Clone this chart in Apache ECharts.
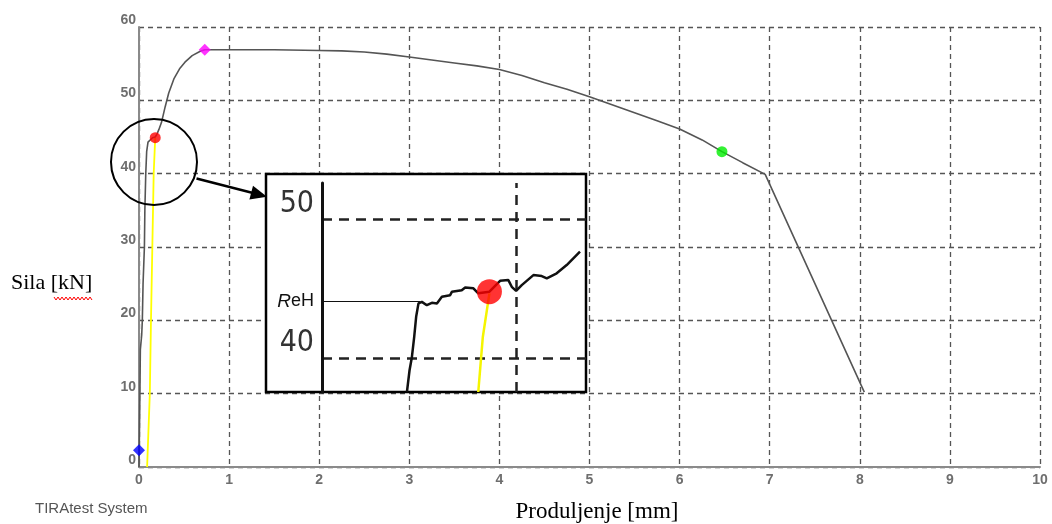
<!DOCTYPE html>
<html>
<head>
<meta charset="utf-8">
<script src="https://cdn.jsdelivr.net/npm/echarts@6/dist/echarts.min.js"></script>
<style>
html,body{margin:0;padding:0;background:#fff;}
#c{width:1052px;height:524px;}
</style>
</head>
<body>
<div id="c"></div>
<script>
// ---- main test curve (elongation mm, force kN) ----
var mainX = [0, 0.005, 0.01, 0.015, 0.03, 0.037, 0.045, 0.06, 0.065, 0.075, 0.085, 0.1, 0.12, 0.15, 0.18, 0.2, 0.22, 0.25, 0.29, 0.33, 0.39, 0.45, 0.51, 0.59, 0.68, 0.73, 1.0, 1.5, 2.0, 2.25, 2.5, 2.75, 3.0, 3.25, 3.5, 3.75, 4.0, 4.25, 4.5, 4.75, 5.0, 5.25, 5.5, 5.75, 6.0, 6.25, 6.47, 6.7, 6.95, 8.05];
var mainY = [0, 5, 10, 16, 18, 20, 25, 30, 35, 40, 43, 44.3, 44.5, 44.9, 45.0, 45.4, 46.0, 47.0, 49.1, 51.0, 53.0, 54.3, 55.2, 56.1, 56.7, 56.9, 56.9, 56.9, 56.8, 56.75, 56.6, 56.3, 55.9, 55.5, 55.1, 54.7, 54.2, 53.4, 52.4, 51.5, 50.5, 49.4, 48.3, 47.2, 46.1, 44.6, 43.0, 41.5, 39.9, 10.2];
// yellow offset line
var yellowX = [0.09, 0.12, 0.133, 0.148, 0.163, 0.18];
var yellowY = [0, 10, 20, 30, 40, 44.9];
// key points
var blueX = [0.0], blueY = [2.3];
var redX = [0.18], redY = [44.9];
var magentaX = [0.73], magentaY = [56.9];
var greenX = [6.47], greenY = [43.0];
// axes ticks
var xTicks = [0,1,2,3,4,5,6,7,8,9,10];
var yTicks = [0,10,20,30,40,50,60];

// ---- inset (detail of upper yield point) ----
var insetX = [0.0875, 0.0902, 0.0926, 0.095, 0.097, 0.0994, 0.1029, 0.108, 0.1132, 0.1184, 0.1235, 0.132, 0.1338, 0.144, 0.1475, 0.156, 0.161, 0.1725, 0.1835, 0.192, 0.1955, 0.2, 0.2058, 0.2178, 0.2264, 0.2316, 0.2418, 0.2521, 0.2658];
var insetY = [37.6, 39.16, 40.1, 41.55, 43.0, 43.96, 44.07, 43.83, 44.0, 43.96, 44.43, 44.55, 44.79, 44.91, 45.1, 45.04, 44.68, 44.8, 45.58, 45.63, 45.15, 44.86, 45.27, 45.99, 45.92, 45.76, 46.12, 46.71, 47.67];
var insetYellowX = [0.161, 0.1657, 0.1725];
var insetYellowY = [37.6, 41.55, 44.68];
var insetRedX = [0.1725], insetRedY = [44.8];
var insetYTicks = [40, 50];
var insetXGrid = [0.2];
var reHLevel = 44.1, reHEndX = 0.1012;

function zip(a, b) { return a.map(function (v, i) { return [v, b[i]]; }); }

var chart = echarts.init(document.getElementById('c'), null, {renderer: 'canvas'});

var tickLabel = {color: '#6e6e6e', fontSize: 14, fontWeight: 'bold', fontFamily: 'Liberation Sans, Arial, sans-serif'};
var insetDash = {color: '#222', width: 2.5, type: [10, 7]};

var option = {
  animation: false,
  backgroundColor: '#fff',
  grid: [
    {left: 139, right: 12, top: 27, bottom: 57, outerBoundsMode: 'none'},
    {left: 322, right: 466, top: 183, bottom: 132, outerBoundsMode: 'none'}
  ],
  xAxis: [
    {
      type: 'value', gridIndex: 0, min: 0, max: 10, interval: 1,
      axisLine: {show: true, onZero: false, lineStyle: {color: '#8a8a8a', width: 2}},
      axisTick: {show: false},
      axisLabel: Object.assign({margin: 6, formatter: function (v) { return xTicks.indexOf(v) >= 0 ? String(v) : ''; }}, tickLabel),
      splitLine: {show: true, lineStyle: {color: '#555', width: 1.3, type: [5, 4]}}
    },
    {
      type: 'value', gridIndex: 1, min: 0, max: 0.272, z: 10,
      axisLine: {show: false}, axisTick: {show: false}, axisLabel: {show: false}, splitLine: {show: false}
    }
  ],
  yAxis: [
    {
      type: 'value', gridIndex: 0, min: 0, max: 60, interval: 10,
      axisLine: {show: true, onZero: false, lineStyle: {color: '#8a8a8a', width: 2}},
      axisTick: {show: false},
      axisLabel: Object.assign({margin: 3, verticalAlign: 'bottom', formatter: function (v) { return yTicks.indexOf(v) >= 0 ? String(v) : ''; }}, tickLabel),
      splitLine: {show: true, lineStyle: {color: '#555', width: 1.3, type: [5, 4]}}
    },
    {
      type: 'value', gridIndex: 1, min: 37.6, max: 52.6, z: 10,
      axisLine: {show: true, onZero: false, lineStyle: {color: '#111', width: 3}},
      axisTick: {show: false},
      axisLabel: {show: true, customValues: insetYTicks, margin: 8, verticalAlign: 'bottom',
        color: '#333', fontSize: 30, fontFamily: 'DejaVu Sans Condensed, Liberation Sans Narrow, Liberation Sans, sans-serif'},
      splitLine: {show: false}
    }
  ],
  series: [
    {
      type: 'line', xAxisIndex: 0, yAxisIndex: 0, data: zip(yellowX, yellowY),
      showSymbol: false, lineStyle: {color: '#ffff00', width: 1.8}, z: 2
    },
    {
      type: 'line', xAxisIndex: 0, yAxisIndex: 0, data: zip(mainX, mainY),
      showSymbol: false, lineStyle: {color: '#555', width: 1.6}, z: 3
    },
    {type: 'scatter', xAxisIndex: 0, yAxisIndex: 0, data: zip(blueX, blueY), symbol: 'diamond', symbolSize: 12, itemStyle: {color: '#0000ff'}, z: 4},
    {type: 'scatter', xAxisIndex: 0, yAxisIndex: 0, data: zip(redX, redY), symbol: 'circle', symbolSize: 11, itemStyle: {color: '#ff0000'}, z: 4},
    {type: 'scatter', xAxisIndex: 0, yAxisIndex: 0, data: zip(magentaX, magentaY), symbol: 'diamond', symbolSize: 12, itemStyle: {color: '#ff00ff'}, z: 4},
    {type: 'scatter', xAxisIndex: 0, yAxisIndex: 0, data: zip(greenX, greenY), symbol: 'circle', symbolSize: 11, itemStyle: {color: '#00ee00'}, z: 4},
    // inset
    {
      type: 'line', xAxisIndex: 1, yAxisIndex: 1, data: zip(insetYellowX, insetYellowY),
      showSymbol: false, lineStyle: {color: '#f5f500', width: 2.5}, z: 12
    },
    {
      type: 'line', xAxisIndex: 1, yAxisIndex: 1, data: zip(insetX, insetY),
      showSymbol: false, lineStyle: {color: '#111', width: 2.5}, z: 11,
      markLine: {
        silent: true, symbol: 'none', z: 10, animation: false,
        label: {show: false},
        lineStyle: insetDash,
        data: insetYTicks.map(function (v) { return {yAxis: v}; })
          .concat(insetXGrid.map(function (v) { return {xAxis: v}; }))
          .concat([[
            {coord: [0, reHLevel], lineStyle: {color: '#111', width: 1, type: 'solid'},
             label: {show: true, position: 'start', distance: 8, formatter: '{i|R}{n|eH}',
               rich: {i: {fontStyle: 'italic', fontSize: 19, color: '#111', fontFamily: 'Liberation Sans, Arial, sans-serif'},
                      n: {fontSize: 18, color: '#111', fontFamily: 'Liberation Sans, Arial, sans-serif'}}}},
            {coord: [reHEndX, reHLevel]}
          ]])
      }
    },
    {type: 'scatter', xAxisIndex: 1, yAxisIndex: 1, data: zip(insetRedX, insetRedY), symbol: 'circle', symbolSize: 25, itemStyle: {color: '#ff0000'}, z: 13}
  ],
  graphic: [
    {type: 'rect', z: 5, shape: {x: 266, y: 174, width: 320, height: 218}, style: {fill: '#fff', stroke: '#000', lineWidth: 2.5}},
    {type: 'circle', z: 20, shape: {cx: 154, cy: 162, r: 43}, style: {fill: 'none', stroke: '#000', lineWidth: 2}},
    {type: 'line', z: 20, shape: {x1: 196.5, y1: 178.5, x2: 253, y2: 193}, style: {stroke: '#000', lineWidth: 2.5}},
    {type: 'polygon', z: 20, shape: {points: [[267, 196.7], [253, 185.8], [249.4, 199.4]]}, style: {fill: '#000'}},
    {type: 'text', z: 20, style: {x: 11, y: 283, text: 'Sila [kN]', fill: '#000', font: '22px "Liberation Serif", "Times New Roman", serif', verticalAlign: 'middle'}},
    {type: 'polyline', z: 20, shape: {points: [[54, 297], [56, 300], [58, 297], [60, 300], [62, 297], [64, 300], [66, 297], [68, 300], [70, 297], [72, 300], [74, 297], [76, 300], [78, 297], [80, 300], [82, 297], [84, 300], [86, 297], [88, 300], [90, 297], [92, 300]]}, style: {stroke: '#ff0000', lineWidth: 1, fill: 'none'}},
    {type: 'text', z: 20, style: {x: 597, y: 512, text: 'Produljenje [mm]', fill: '#000', font: '23px "Liberation Serif", "Times New Roman", serif', align: 'center', verticalAlign: 'middle'}},
    {type: 'text', z: 20, style: {x: 35, y: 509, text: 'TIRAtest System', fill: '#555', font: '15px "Liberation Sans", Arial, sans-serif', verticalAlign: 'middle'}}
  ]
};
chart.setOption(option);
</script>
</body>
</html>
